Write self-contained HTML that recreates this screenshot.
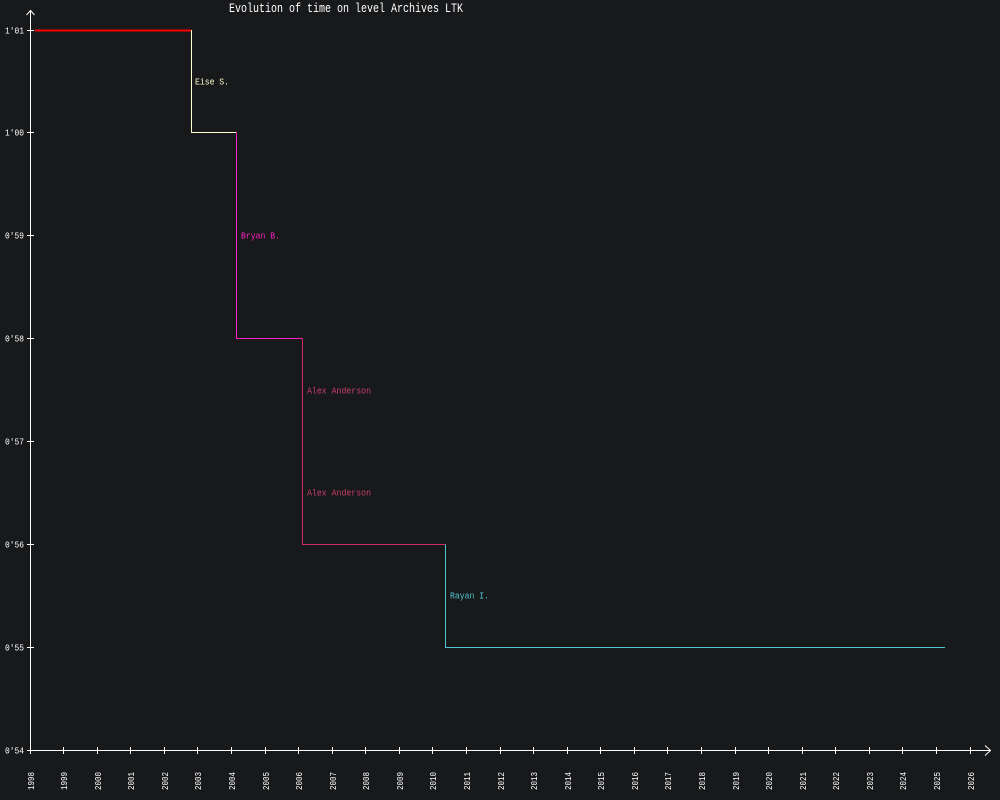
<!DOCTYPE html>
<html><head><meta charset="utf-8"><style>
html,body{margin:0;padding:0;background:#18191b;}
svg{display:block;}
text{font-family:"Liberation Mono",monospace;}
</style></head><body>
<svg width="1000" height="800" viewBox="0 0 1000 800" xmlns="http://www.w3.org/2000/svg">
<rect width="1000" height="800" fill="#18191b"/>
<text x="229" y="12" font-size="12.5" fill="#ffffff" textLength="234" lengthAdjust="spacingAndGlyphs">Evolution of time on level Archives LTK</text>
<g stroke="#ffffff" stroke-width="1" fill="none">
<line x1="30.5" y1="10" x2="30.5" y2="751"/>
<polyline points="26.5,15 30.5,10.5 34.5,15"/>
<line x1="30" y1="750.5" x2="990" y2="750.5"/>
<polyline points="985,745.5 990.5,750.5 985,755.5"/>
<line x1="27" y1="30.5" x2="34" y2="30.5"/>
<line x1="27" y1="132.5" x2="34" y2="132.5"/>
<line x1="27" y1="235.5" x2="34" y2="235.5"/>
<line x1="27" y1="338.5" x2="34" y2="338.5"/>
<line x1="27" y1="441.5" x2="34" y2="441.5"/>
<line x1="27" y1="544.5" x2="34" y2="544.5"/>
<line x1="27" y1="647.5" x2="34" y2="647.5"/>
<line x1="27" y1="750.5" x2="34" y2="750.5"/>
<path d="M30.5 747V754M63.5 747V754M97.5 747V754M130.5 747V754M164.5 747V754M197.5 747V754M231.5 747V754M265.5 747V754M298.5 747V754M332.5 747V754M365.5 747V754M399.5 747V754M432.5 747V754M466.5 747V754M500.5 747V754M533.5 747V754M567.5 747V754M600.5 747V754M634.5 747V754M667.5 747V754M701.5 747V754M735.5 747V754M768.5 747V754M802.5 747V754M835.5 747V754M869.5 747V754M902.5 747V754M936.5 747V754M970.5 747V754"/>
</g>
<g font-size="9" fill="#ffffff" text-anchor="end">
<text x="24" y="33.5" textLength="19" lengthAdjust="spacingAndGlyphs">1'01</text>
<text x="24" y="135.5" textLength="19" lengthAdjust="spacingAndGlyphs">1'00</text>
<text x="24" y="238.5" textLength="19" lengthAdjust="spacingAndGlyphs">0'59</text>
<text x="24" y="341.5" textLength="19" lengthAdjust="spacingAndGlyphs">0'58</text>
<text x="24" y="444.5" textLength="19" lengthAdjust="spacingAndGlyphs">0'57</text>
<text x="24" y="547.5" textLength="19" lengthAdjust="spacingAndGlyphs">0'56</text>
<text x="24" y="650.5" textLength="19" lengthAdjust="spacingAndGlyphs">0'55</text>
<text x="24" y="753.5" textLength="19" lengthAdjust="spacingAndGlyphs">0'54</text>
</g>
<g font-size="9" fill="#ffffff">
<text transform="translate(34,790) rotate(-90)" textLength="18" lengthAdjust="spacingAndGlyphs">1998</text>
<text transform="translate(67,790) rotate(-90)" textLength="18" lengthAdjust="spacingAndGlyphs">1999</text>
<text transform="translate(101,790) rotate(-90)" textLength="18" lengthAdjust="spacingAndGlyphs">2000</text>
<text transform="translate(134,790) rotate(-90)" textLength="18" lengthAdjust="spacingAndGlyphs">2001</text>
<text transform="translate(168,790) rotate(-90)" textLength="18" lengthAdjust="spacingAndGlyphs">2002</text>
<text transform="translate(201,790) rotate(-90)" textLength="18" lengthAdjust="spacingAndGlyphs">2003</text>
<text transform="translate(235,790) rotate(-90)" textLength="18" lengthAdjust="spacingAndGlyphs">2004</text>
<text transform="translate(269,790) rotate(-90)" textLength="18" lengthAdjust="spacingAndGlyphs">2005</text>
<text transform="translate(302,790) rotate(-90)" textLength="18" lengthAdjust="spacingAndGlyphs">2006</text>
<text transform="translate(336,790) rotate(-90)" textLength="18" lengthAdjust="spacingAndGlyphs">2007</text>
<text transform="translate(369,790) rotate(-90)" textLength="18" lengthAdjust="spacingAndGlyphs">2008</text>
<text transform="translate(403,790) rotate(-90)" textLength="18" lengthAdjust="spacingAndGlyphs">2009</text>
<text transform="translate(436,790) rotate(-90)" textLength="18" lengthAdjust="spacingAndGlyphs">2010</text>
<text transform="translate(470,790) rotate(-90)" textLength="18" lengthAdjust="spacingAndGlyphs">2011</text>
<text transform="translate(504,790) rotate(-90)" textLength="18" lengthAdjust="spacingAndGlyphs">2012</text>
<text transform="translate(537,790) rotate(-90)" textLength="18" lengthAdjust="spacingAndGlyphs">2013</text>
<text transform="translate(571,790) rotate(-90)" textLength="18" lengthAdjust="spacingAndGlyphs">2014</text>
<text transform="translate(604,790) rotate(-90)" textLength="18" lengthAdjust="spacingAndGlyphs">2015</text>
<text transform="translate(638,790) rotate(-90)" textLength="18" lengthAdjust="spacingAndGlyphs">2016</text>
<text transform="translate(671,790) rotate(-90)" textLength="18" lengthAdjust="spacingAndGlyphs">2017</text>
<text transform="translate(705,790) rotate(-90)" textLength="18" lengthAdjust="spacingAndGlyphs">2018</text>
<text transform="translate(739,790) rotate(-90)" textLength="18" lengthAdjust="spacingAndGlyphs">2019</text>
<text transform="translate(772,790) rotate(-90)" textLength="18" lengthAdjust="spacingAndGlyphs">2020</text>
<text transform="translate(806,790) rotate(-90)" textLength="18" lengthAdjust="spacingAndGlyphs">2021</text>
<text transform="translate(839,790) rotate(-90)" textLength="18" lengthAdjust="spacingAndGlyphs">2022</text>
<text transform="translate(873,790) rotate(-90)" textLength="18" lengthAdjust="spacingAndGlyphs">2023</text>
<text transform="translate(906,790) rotate(-90)" textLength="18" lengthAdjust="spacingAndGlyphs">2024</text>
<text transform="translate(940,790) rotate(-90)" textLength="18" lengthAdjust="spacingAndGlyphs">2025</text>
<text transform="translate(974,790) rotate(-90)" textLength="18" lengthAdjust="spacingAndGlyphs">2026</text>
</g>
<g fill="none">
<line x1="35" y1="30.5" x2="191.5" y2="30.5" stroke="#ff0000" stroke-width="2"/>
<polyline points="191.5,30 191.5,132.5 236.5,132.5" stroke="#ffffd0" stroke-width="1"/>
<polyline points="236.5,132.5 236.5,338.5 302.5,338.5" stroke="#ff22c4" stroke-width="1"/>
<polyline points="302.5,338.5 302.5,544.5 445.5,544.5" stroke="#d02a68" stroke-width="1"/>
<polyline points="445.5,544.5 445.5,647.5 945,647.5" stroke="#52c6d2" stroke-width="1"/>
</g>
<g font-size="9">
<text x="195" y="84.5" fill="#ffffd0" textLength="34" lengthAdjust="spacingAndGlyphs">Eise S.</text>
<text x="241" y="238.5" fill="#ff22c4" textLength="39" lengthAdjust="spacingAndGlyphs">Bryan B.</text>
<text x="307" y="393.5" fill="#c8406e" textLength="64" lengthAdjust="spacingAndGlyphs">Alex Anderson</text>
<text x="307" y="495.5" fill="#c8406e" textLength="64" lengthAdjust="spacingAndGlyphs">Alex Anderson</text>
<text x="450" y="598.5" fill="#52c6d2" textLength="39" lengthAdjust="spacingAndGlyphs">Rayan I.</text>
</g>
</svg>
</body></html>
